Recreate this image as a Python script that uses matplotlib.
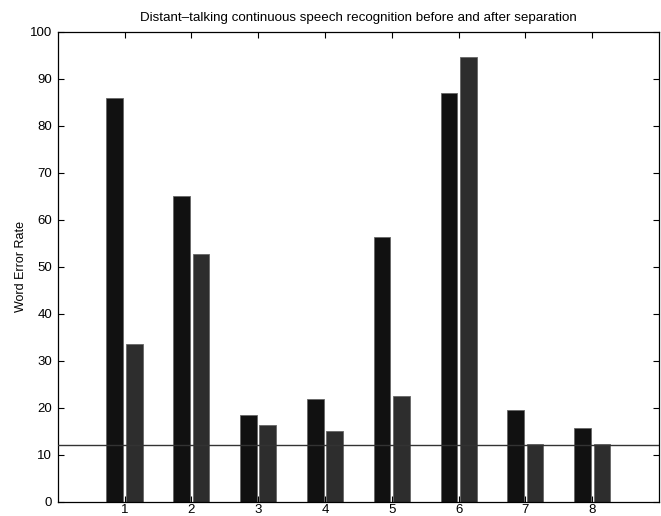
import matplotlib
matplotlib.use("Agg")
import matplotlib.pyplot as plt
import numpy as np

plt.rcParams['font.family'] = ['Liberation Sans', 'DejaVu Sans']

# word error rate per condition, before / after separation
groups = [1, 2, 3, 4, 5, 6, 7, 8]
before = [85.9, 65.1, 18.4, 21.8, 56.3, 86.9, 19.6, 15.6]
after = [33.5, 52.6, 16.4, 15.1, 22.5, 94.7, 12.2, 12.2]
baseline = 12.0

fig = plt.figure(figsize=(6.61, 5.16), dpi=100)
ax = fig.add_axes([0.0873, 0.0277, 0.9097, 0.9109])

x = np.array(groups)
w = 0.25
ax.bar(x - 0.145, before, w, color='#111111', edgecolor='#666666', linewidth=0.6)
ax.bar(x + 0.145, after, w, color='#2d2d2d', edgecolor='#666666', linewidth=0.6)
ax.axhline(baseline, color='#333333', linewidth=1.0, zorder=3)

ax.set_xlim(0, 9)
ax.set_ylim(0, 100)
ax.set_xticks(groups)
ax.set_yticks(np.arange(0, 101, 10))
ax.tick_params(direction='in', length=4, width=0.8, top=True, right=True,
               labelsize=9.5)
ax.tick_params(axis='x', pad=2)
ax.tick_params(axis='y', pad=4)
for s in ax.spines.values():
    s.set_linewidth(0.9)

ax.set_ylabel('Word Error Rate', fontsize=9, labelpad=2)
ax.set_title('Distant\u2013talking continuous speech recognition before and after separation',
             fontsize=9.6, pad=8)

fig.savefig('out.png', dpi=100)
